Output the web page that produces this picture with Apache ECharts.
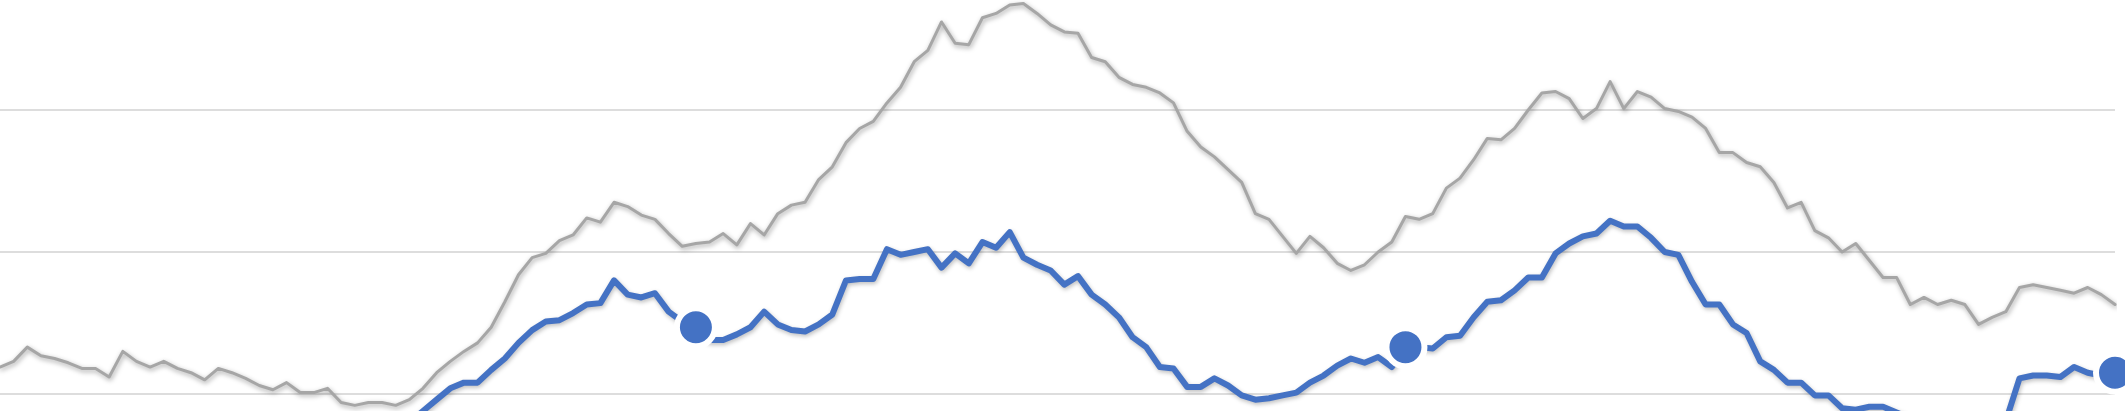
<!DOCTYPE html>
<html>
<head>
<meta charset="utf-8">
<script src="https://cdn.jsdelivr.net/npm/echarts@6/dist/echarts.min.js"></script>
<style>
    html, body { margin: 0; padding: 0; background: #ffffff; overflow: hidden; }
    /* the visible picture is a window onto a taller chart */
    #frame { position: relative; width: 2125px; height: 411px; overflow: hidden; }
    #chart { position: absolute; left: 0; top: -32px; width: 2125px; height: 568px; }
</style>
</head>
<body>
<div id="frame"><div id="chart"></div></div>
<script>
// weekly points, three years of 52 weeks
const years = ['Y1', 'Y2', 'Y3'];
const weeksPerYear = 52;

// grey series (upper line)
const greyValues = [
    11.9, 12.3, 13.3, 12.7, 12.5, 12.2, 11.8, 11.8, 11.2, 13.0,
    12.3, 11.9, 12.3, 11.8, 11.5, 11.0, 11.8, 11.5, 11.1, 10.6,
    10.3, 10.8, 10.1, 10.1, 10.4, 9.4, 9.2, 9.4, 9.4, 9.2,
    9.6, 10.4, 11.5, 12.3, 13.0, 13.6, 14.7, 16.5, 18.4, 19.6,
    19.9, 20.8, 21.2, 22.4, 22.1, 23.5, 23.2, 22.6, 22.3, 21.3,
    20.4, 20.6, 20.7, 21.3, 20.5, 22.0, 21.2, 22.7, 23.3, 23.5,
    25.1, 26.0, 27.7, 28.7, 29.2, 30.5, 31.6, 33.4, 34.2, 36.2,
    34.7, 34.6, 36.5, 36.8, 37.4, 37.5, 36.8, 36.0, 35.5, 35.4,
    33.7, 33.4, 32.3, 31.8, 31.6, 31.2, 30.5, 28.5, 27.4, 26.7,
    25.8, 24.9, 22.7, 22.3, 21.1, 19.9, 21.1, 20.3, 19.2, 18.7,
    19.1, 20.0, 20.7, 22.5, 22.3, 22.7, 24.5, 25.2, 26.5, 28.0,
    27.9, 28.7, 30.0, 31.2, 31.3, 30.8, 29.4, 30.1, 32.0, 30.1,
    31.3, 30.9, 30.1, 29.9, 29.5, 28.7, 27.0, 27.0, 26.3, 26.0,
    24.9, 23.1, 23.5, 21.5, 21.0, 20.0, 20.6, 19.4, 18.2, 18.2,
    16.3, 16.8, 16.3, 16.6, 16.3, 14.9, 15.4, 15.8, 17.5, 17.7,
    17.5, 17.3, 17.1, 17.5, 17.0, 16.3
];

// blue series (lower line), first weeks sit below the visible area
const blueValues = [
    6.8, 6.9, 7.3, 7.0, 6.9, 6.8, 6.6, 6.6, 6.3, 7.0,
    6.8, 6.6, 6.8, 6.5, 6.4, 6.2, 6.5, 6.4, 6.3, 6.1,
    5.9, 6.1, 5.9, 6.1, 6.3, 6.2, 6.4, 6.8, 7.0, 7.5,
    8.0, 8.8, 9.6, 10.4, 10.8, 10.8, 11.7, 12.5, 13.6, 14.5,
    15.1, 15.2, 15.7, 16.3, 16.4, 18.0, 17.0, 16.8, 17.1, 15.8,
    15.1, 14.7, 13.8, 13.8, 14.2, 14.7, 15.8, 14.9, 14.5, 14.4,
    14.9, 15.6, 18.0, 18.1, 18.1, 20.2, 19.8, 20.0, 20.2, 18.9,
    19.9, 19.2, 20.7, 20.3, 21.4, 19.6, 19.1, 18.7, 17.7, 18.3,
    17.0, 16.3, 15.4, 14.0, 13.3, 11.9, 11.8, 10.5, 10.5, 11.1,
    10.6, 9.9, 9.6, 9.7, 9.9, 10.1, 10.8, 11.3, 12.0, 12.5,
    12.2, 12.6, 11.9, 13.3, 13.3, 13.2, 14.0, 14.1, 15.4, 16.5,
    16.6, 17.3, 18.2, 18.2, 19.9, 20.6, 21.1, 21.3, 22.2, 21.8,
    21.8, 21.0, 20.0, 19.8, 17.9, 16.3, 16.3, 14.9, 14.3, 12.3,
    11.7, 10.8, 10.8, 9.9, 9.9, 9.0, 8.9, 9.1, 9.1, 8.7,
    8.3, 8.0, 7.8, 7.7, 7.6, 7.5, 7.6, 8.1, 11.1, 11.3,
    11.3, 11.2, 11.9, 11.5, 11.3, 11.5
];

// year-end points that carry a round marker
const markerWeeks = [51, 103, 155];

const yMin = 0;
const yMax = 40;
const yInterval = 10;

const categories = [];
years.forEach(y => {
    for (let w = 1; w <= weeksPerYear; w++) {
        categories.push(y + ' W' + w);
    }
});

const blueData = blueValues.map((v, i) => {
    if (markerWeeks.indexOf(i) > -1) {
        return { value: v, symbol: 'circle', symbolSize: 38 };
    }
    return { value: v, symbol: 'none' };
});

const chart = echarts.init(document.getElementById('chart'));

const option = {
    animation: false,
    backgroundColor: '#ffffff',
    grid: {
        left: 0,
        right: 10,
        top: 0,
        bottom: 0
    },
    xAxis: {
        type: 'category',
        boundaryGap: false,
        data: categories,
        axisLine: { show: false },
        axisTick: { show: false },
        axisLabel: { show: false },
        splitLine: { show: false }
    },
    yAxis: {
        type: 'value',
        min: yMin,
        max: yMax,
        interval: yInterval,
        axisLine: { show: false },
        axisTick: { show: false },
        axisLabel: { show: false },
        splitLine: {
            lineStyle: {
                color: '#dddddd',
                width: 2
            }
        }
    },
    series: [
        {
            name: 'grey',
            type: 'line',
            data: greyValues,
            symbol: 'none',
            lineStyle: {
                color: '#a6a6a6',
                width: 3,
                cap: 'round',
                join: 'round',
                shadowColor: 'rgba(0,0,0,0.35)',
                shadowBlur: 5,
                shadowOffsetX: 1,
                shadowOffsetY: 2
            }
        },
        {
            name: 'blue',
            type: 'line',
            data: blueData,
            showAllSymbol: true,
            itemStyle: {
                color: '#4472c4',
                borderColor: '#ffffff',
                borderWidth: 6
            },
            lineStyle: {
                color: '#4472c4',
                width: 6,
                cap: 'round',
                join: 'round',
                shadowColor: 'rgba(0,0,0,0.25)',
                shadowBlur: 4,
                shadowOffsetX: 1,
                shadowOffsetY: 2
            }
        }
    ]
};

chart.setOption(option);
</script>
</body>
</html>
